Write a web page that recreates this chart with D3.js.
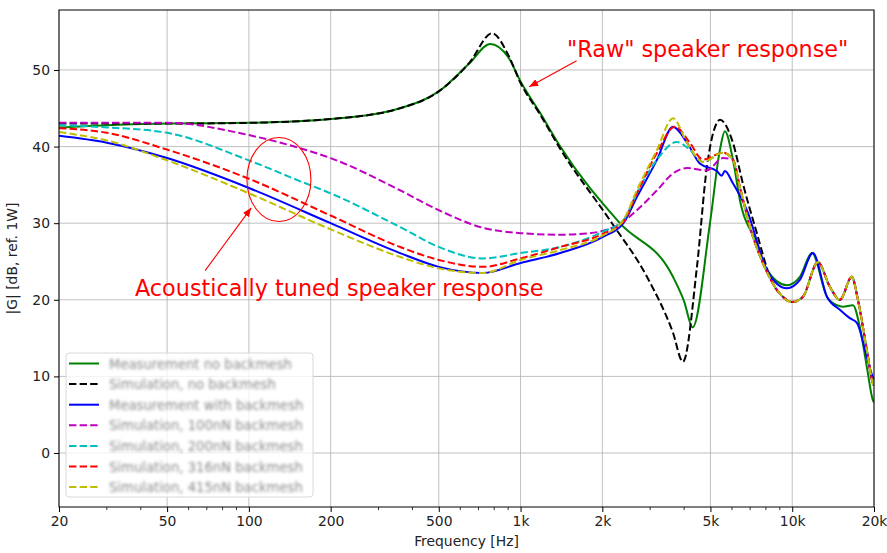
<!DOCTYPE html>
<html>
<head>
<meta charset="utf-8">
<script src="https://cdn.jsdelivr.net/npm/d3@7"></script>
<style>
    body { margin: 0; background: #fff; }
    svg { font-family: "DejaVu Sans", sans-serif; }
</style>
</head>
<body>
<svg id="chart" width="887" height="553"></svg>
<script>
// frequency ticks along the log axis
const tickValues = [20, 50, 100, 200, 500, 1000, 2000, 5000, 10000, 20000];
const tickLabels = ["20", "50", "100", "200", "500", "1k", "2k", "5k", "10k", "20k"];
const minorTicks = [30, 40, 60, 70, 80, 90, 300, 400, 600, 700, 800, 900, 3000, 4000, 6000, 7000, 8000, 9000];
const yTicks = [0, 10, 20, 30, 40, 50];

// Measurement, no backmesh (green)
const measNoFreq = [20, 30, 50, 100, 200, 360, 500, 650, 772, 900, 1000, 1180, 1400, 2320, 3640, 4000, 4300, 4980, 5420, 5650, 6050, 6420, 7410, 8070, 9560, 10670, 11820, 13420, 14600, 15360, 16730, 17750, 18830, 19810, 20000];
const measNoDb = [42.5, 42.8, 43.0, 43.1, 43.6, 45.0, 47.2, 50.9, 53.4, 51.7, 48.5, 44.4, 40.0, 30.0, 23.0, 19.8, 16.4, 30.0, 39.6, 42.0, 38.3, 33.0, 27.4, 23.9, 21.9, 23.0, 26.1, 20.4, 19.3, 19.1, 19.3, 16.4, 11.2, 6.9, 6.6];

// Simulation, no backmesh (black dashed)
const simNoFreq = [20, 50, 100, 200, 360, 500, 650, 786, 900, 1000, 1180, 1400, 2170, 2920, 3640, 3960, 4460, 4850, 5280, 5420, 6050, 6580, 7410, 8280, 9560, 10060, 10950, 12430, 13760, 14980, 16580, 17450, 18830, 19810, 20000];
const simNoDb = [43.0, 43.0, 43.1, 43.6, 45.0, 47.2, 51.0, 54.8, 52.0, 48.3, 44.2, 39.7, 30.0, 23.0, 15.7, 11.9, 24.3, 37.3, 43.1, 43.5, 40.5, 35.2, 28.7, 23.0, 20.0, 19.7, 20.4, 24.9, 21.7, 20.0, 23.0, 20.0, 13.4, 9.1, 8.8];

// Measurement with backmesh (blue)
const measWithFreq = [20, 30, 50, 100, 200, 360, 500, 727, 1000, 1400, 2010, 2390, 2680, 3180, 3640, 4100, 4570, 5280, 5500, 5650, 6050, 6810, 8070, 9560, 10670, 11920, 13420, 14980, 16300, 17300, 18830, 19810, 20000];
const measWithDb = [41.4, 40.5, 38.5, 34.6, 30.0, 26.1, 24.3, 23.5, 24.8, 26.1, 28.2, 30.0, 33.4, 38.3, 42.6, 40.5, 37.8, 36.8, 36.2, 36.8, 35.2, 31.7, 23.9, 21.5, 22.6, 26.1, 20.4, 18.7, 17.6, 17.0, 12.5, 9.9, 9.6];

// simulations with backmesh, low/mid part differs per case
const sim100Freq = [20, 50, 100, 154, 200, 360, 500, 727, 1000, 1400, 1800, 2390, 2680, 3180, 3640, 4100, 4850, 5560];
const sim100Db = [43.1, 43.1, 41.5, 39.8, 38.5, 34.3, 31.7, 29.4, 28.7, 28.5, 28.7, 30.2, 31.7, 34.3, 36.5, 37.2, 36.9, 38.5];
const sim200Freq = [20, 30, 50, 100, 154, 200, 360, 500, 727, 1000, 1400, 2010, 2390, 2680, 3180, 3760, 4200, 4690, 5560];
const sim200Db = [42.8, 42.5, 41.8, 38.2, 35.5, 33.9, 29.5, 26.9, 25.4, 26.1, 26.9, 28.9, 30.4, 33.9, 38.3, 40.6, 39.6, 38.0, 39.2];
const sim316Freq = [20, 30, 50, 100, 200, 360, 500, 727, 1000, 1400, 2010, 2390, 2680, 3180, 3700, 4200, 4690, 5560];
const sim316Db = [42.4, 41.8, 39.6, 35.8, 31.0, 26.9, 25.2, 24.3, 25.4, 26.9, 28.6, 30.2, 33.9, 39.2, 42.6, 40.5, 38.3, 39.2];
const sim415Freq = [20, 30, 50, 100, 200, 360, 500, 727, 1000, 1400, 2010, 2390, 2680, 3180, 3640, 4100, 4690, 5560];
const sim415Db = [41.9, 40.8, 38.2, 33.9, 29.2, 25.6, 24.1, 23.5, 25.2, 26.5, 28.4, 30.4, 34.3, 39.6, 43.7, 40.5, 38.0, 39.2];
// shared high frequency tail of the simulations
const simTailFreq = [6050, 6420, 6990, 7800, 8790, 9970, 10950, 12430, 13760, 14980, 16580, 17450, 18830, 19810, 20000];
const simTailDb = [38.3, 34.7, 29.5, 24.8, 21.3, 19.7, 20.4, 24.9, 21.7, 20.0, 23.0, 20.0, 13.4, 9.1, 8.8];

const legendLabels = ["Measurement no backmesh", "Simulation, no backmesh", "Measurement with backmesh", "Simulation, 100nN backmesh", "Simulation, 200nN backmesh", "Simulation, 316nN backmesh", "Simulation, 415nN backmesh"];

let svg = d3.select("#chart");
let plotLeft = 59, plotRight = 874, plotTop = 10, plotBottom = 507;

let x = d3.scaleLog().domain([20, 20000]).range([plotLeft, plotRight]);
let y = d3.scaleLinear().domain([-7.05, 57.83]).range([plotBottom, plotTop]);

function zip(f, v) {
    return f.map(function (d, i) { return [d, v[i]]; });
}

let series = [
    {data: zip(measNoFreq, measNoDb), color: "#008000", dash: null},
    {data: zip(simNoFreq, simNoDb), color: "#000000", dash: "7.4,3.2"},
    {data: zip(measWithFreq, measWithDb), color: "#0000ff", dash: null},
    {data: zip(sim100Freq.concat(simTailFreq), sim100Db.concat(simTailDb)), color: "#bf00bf", dash: "7.4,3.2"},
    {data: zip(sim200Freq.concat(simTailFreq), sim200Db.concat(simTailDb)), color: "#00bfbf", dash: "7.4,3.2"},
    {data: zip(sim316Freq.concat(simTailFreq), sim316Db.concat(simTailDb)), color: "#ff0000", dash: "7.4,3.2"},
    {data: zip(sim415Freq.concat(simTailFreq), sim415Db.concat(simTailDb)), color: "#bfbf00", dash: "7.4,3.2"}
];

let defs = svg.append("defs");
defs.append("clipPath").attr("id", "plotclip")
    .append("rect").attr("x", plotLeft).attr("y", plotTop)
    .attr("width", plotRight - plotLeft).attr("height", plotBottom - plotTop);

let blur = defs.append("filter").attr("id", "blur")
    .attr("x", "-5%").attr("y", "-30%").attr("width", "110%").attr("height", "160%");
blur.append("feGaussianBlur").attr("stdDeviation", 1.7);

let arrowHead = defs.append("marker")
    .attr("id", "arrow").attr("viewBox", "0 0 10 10").attr("refX", 10).attr("refY", 5)
    .attr("markerWidth", 9).attr("markerHeight", 9).attr("markerUnits", "userSpaceOnUse")
    .attr("orient", "auto");
arrowHead.append("path").attr("d", "M0,1 L10,5 L0,9 z").attr("fill", "red");

// grid
svg.append("g").selectAll("line").data(tickValues).enter().append("line")
    .attr("x1", function (d) { return x(d); }).attr("x2", function (d) { return x(d); })
    .attr("y1", plotTop).attr("y2", plotBottom)
    .attr("stroke", "#b0b0b0").attr("stroke-width", 0.8);
svg.append("g").selectAll("line").data(yTicks).enter().append("line")
    .attr("x1", plotLeft).attr("x2", plotRight)
    .attr("y1", function (d) { return y(d); }).attr("y2", function (d) { return y(d); })
    .attr("stroke", "#b0b0b0").attr("stroke-width", 0.8);

// curves
let line = d3.line()
    .x(function (d) { return x(d[0]); })
    .y(function (d) { return y(d[1]); })
    .curve(d3.curveMonotoneX);

let curves = svg.append("g").attr("clip-path", "url(#plotclip)");
series.forEach(function (s) {
    curves.append("path")
        .attr("d", line(s.data))
        .attr("fill", "none")
        .attr("stroke", s.color)
        .attr("stroke-width", 2)
        .attr("stroke-dasharray", s.dash)
        .attr("stroke-linejoin", "round");
});

// axes
let xAxis = d3.axisBottom(x).tickValues(tickValues)
    .tickFormat(function (d, i) { return tickLabels[i]; }).tickSize(5).tickPadding(4);
let gx = svg.append("g").attr("transform", "translate(0," + plotBottom + ")").call(xAxis);
gx.select(".domain").remove();
gx.selectAll("text").attr("font-size", 13.9).attr("fill", "#222").attr("font-family", "DejaVu Sans");
gx.selectAll(".minor").data(minorTicks).enter().append("line")
    .attr("x1", function (d) { return x(d); }).attr("x2", function (d) { return x(d); })
    .attr("y1", 0).attr("y2", 3).attr("stroke", "#000").attr("stroke-width", 0.8);

let yAxis = d3.axisLeft(y).tickValues(yTicks).tickSize(5).tickPadding(4);
let gy = svg.append("g").attr("transform", "translate(" + plotLeft + ",0)").call(yAxis);
gy.select(".domain").remove();
gy.selectAll("text").attr("font-size", 13.9).attr("fill", "#222").attr("font-family", "DejaVu Sans");

svg.append("rect").attr("x", plotLeft).attr("y", plotTop)
    .attr("width", plotRight - plotLeft).attr("height", plotBottom - plotTop)
    .attr("fill", "none").attr("stroke", "#000").attr("stroke-width", 1);

svg.append("text").attr("x", (plotLeft + plotRight) / 2).attr("y", 546).attr("text-anchor", "middle")
    .attr("font-size", 13.9).attr("fill", "#222").text("Frequency [Hz]");
svg.append("text").attr("transform", "translate(17," + ((plotTop + plotBottom) / 2) + ") rotate(-90)")
    .attr("text-anchor", "middle").attr("font-size", 13.9).attr("fill", "#222").text("|G| [dB, ref. 1W]");

// annotations
svg.append("ellipse").attr("cx", x(129)).attr("cy", y(35.7)).attr("rx", 32).attr("ry", 42)
    .attr("fill", "none").attr("stroke", "red").attr("stroke-width", 1.1);
svg.append("line").attr("x1", x(69)).attr("y1", y(23.8)).attr("x2", x(102)).attr("y2", y(32))
    .attr("stroke", "red").attr("stroke-width", 1.1).attr("marker-end", "url(#arrow)");
svg.append("line").attr("x1", x(1608)).attr("y1", y(51.2)).attr("x2", x(1076)).attr("y2", y(47.8))
    .attr("stroke", "red").attr("stroke-width", 1.1).attr("marker-end", "url(#arrow)");
svg.append("text").attr("x", 135).attr("y", 296).attr("font-size", 22.3).attr("fill", "red")
    .text("Acoustically tuned speaker response");
svg.append("text").attr("x", 567).attr("y", 57).attr("font-size", 22.3).attr("fill", "red")
    .text("\"Raw\" speaker response\"");

// legend
let lg = svg.append("g");
lg.append("rect").attr("x", 66).attr("y", 353).attr("width", 247).attr("height", 144).attr("rx", 3)
    .attr("fill", "rgba(255,255,255,0.8)").attr("stroke", "#d8d8d8").attr("stroke-width", 1);
series.forEach(function (s, i) {
    let ly = 363.5 + i * 20.6;
    lg.append("line").attr("x1", 69).attr("x2", 99).attr("y1", ly).attr("y2", ly)
        .attr("stroke", s.color).attr("stroke-width", 2).attr("stroke-dasharray", s.dash);
    lg.append("text").attr("x", 109).attr("y", ly + 5).attr("font-size", 13.2).attr("fill", "#8a8a8a")
        .attr("filter", "url(#blur)").text(legendLabels[i]);
});
</script>
</body>
</html>
